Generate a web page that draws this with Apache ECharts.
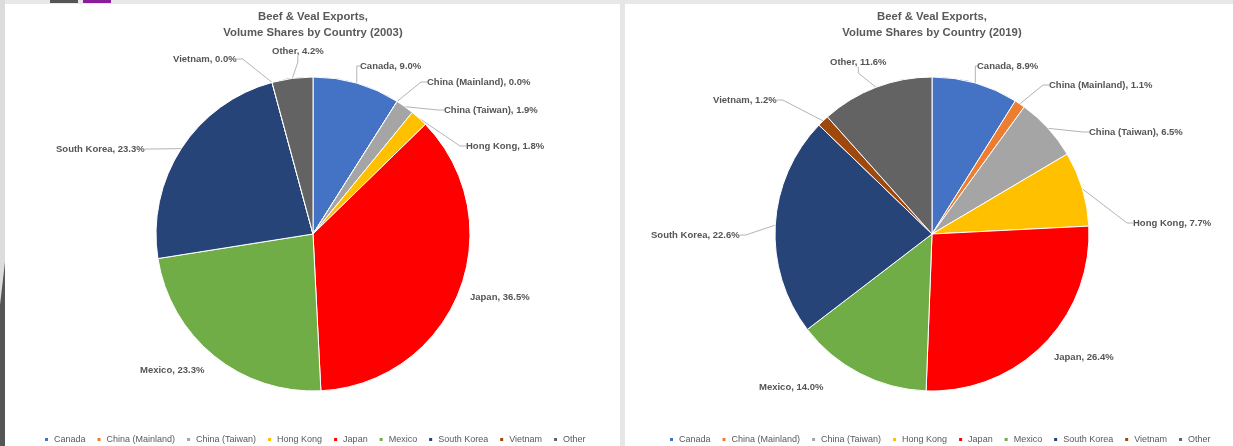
<!DOCTYPE html>
<html>
<head>
<meta charset="utf-8">
<script src="https://cdn.jsdelivr.net/npm/echarts@6/dist/echarts.min.js"></script>
<style>
  html, body { margin: 0; padding: 0; background: #fff; }
  #chart { width: 1233px; height: 446px; }
</style>
</head>
<body>
<div id="chart"></div>
<script>
// data
const names = ["Canada", "China (Mainland)", "China (Taiwan)", "Hong Kong", "Japan", "Mexico", "South Korea", "Vietnam", "Other"];
const shares2003 = [9.0, 0.0, 1.9, 1.8, 36.5, 23.3, 23.3, 0.0, 4.2];
const shares2019 = [8.9, 1.1, 6.5, 7.7, 26.4, 14.0, 22.6, 1.2, 11.6];
const titles = ["Beef & Veal Exports,\nVolume Shares by Country (2003)", "Beef & Veal Exports,\nVolume Shares by Country (2019)"];

// look
const colors = ["#4472C4", "#ED7D31", "#A5A5A5", "#FFC000", "#FF0000", "#70AD47", "#264478", "#9E480E", "#636363"];
const FONT = "Liberation Sans";
// label spots (left edge x, middle y), same order as names
const labelPos2003 = [[360, 66], [427, 82], [444, 110], [466, 146], [470, 297], [140, 370], [56, 149], [173, 59], [272, 51]];
const labelPos2019 = [[977, 66], [1049, 85], [1089, 132], [1133, 223], [1054, 357], [759, 387], [651, 235], [713, 100], [830, 62]];
const noLine = ["Japan", "Mexico"];

let chartInst = echarts.init(document.getElementById("chart"));

function pieSeries(values, cx, pos) {
  return {
    type: "pie",
    center: [cx, 234],
    radius: 157,
    startAngle: 90,
    clockwise: true,
    avoidLabelOverlap: false,
    animation: false,
    data: values.map((v, i) => ({
      name: names[i],
      value: v,
      itemStyle: { color: colors[i] },
      labelLine: { show: noLine.indexOf(names[i]) < 0 },
    })),
    itemStyle: { borderColor: "#fff", borderWidth: 1 },
    label: {
      formatter: (p) => p.name + ", " + p.value.toFixed(1) + "%",
      fontSize: 9.5,
      fontWeight: "bold",
      fontFamily: FONT,
      color: "#555",
    },
    labelLine: {
      length: 10,
      length2: 6,
      lineStyle: { color: "#b4b4b4", width: 1 },
    },
    labelLayout: (p) => ({
      x: pos[p.dataIndex][0],
      y: pos[p.dataIndex][1],
      align: "left",
      verticalAlign: "middle",
    }),
    emphasis: { disabled: true },
  };
}

function legendAt(left) {
  return {
    data: names,
    left: left,
    top: 430,
    icon: "rect",
    itemWidth: 5,
    itemHeight: 5,
    itemGap: 10,
    selectedMode: false,
    textStyle: { fontSize: 9, fontFamily: FONT, color: "#595959" },
  };
}

let option = {
  backgroundColor: "#fff",
  graphic: [
    { type: "rect", shape: { x: 0, y: 0, width: 1233, height: 4 }, style: { fill: "#e8e8e8" } },
    { type: "rect", shape: { x: 50, y: 0, width: 28, height: 3 }, style: { fill: "#555" } },
    { type: "rect", shape: { x: 83, y: 0, width: 28, height: 3 }, style: { fill: "#8a1d9a" } },
    { type: "rect", shape: { x: 0, y: 0, width: 5, height: 446 }, style: { fill: "#dcdcdc" } },
    { type: "polygon", shape: { points: [[5, 262], [5, 446], [0, 446], [0, 305]] }, style: { fill: "#555" } },
    { type: "rect", shape: { x: 620, y: 0, width: 5, height: 446 }, style: { fill: "#e6e6e6" } },
    {
      type: "text", x: 313, y: 9,
      style: { text: titles[0], align: "center", font: "bold 11.3px " + FONT, fill: "#595959", lineHeight: 16 },
    },
    {
      type: "text", x: 932, y: 9,
      style: { text: titles[1], align: "center", font: "bold 11.3px " + FONT, fill: "#595959", lineHeight: 16 },
    },
  ],
  legend: [legendAt(38), legendAt(663)],
  series: [pieSeries(shares2003, 313, labelPos2003), pieSeries(shares2019, 932, labelPos2019)],
};
chartInst.setOption(option);
</script>
</body>
</html>
